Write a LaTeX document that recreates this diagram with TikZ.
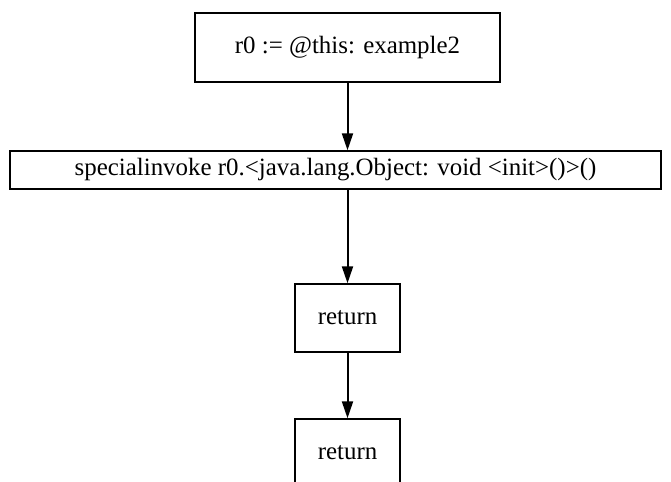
\documentclass[tikz,border=0pt]{standalone}
\usepackage{fontspec}
\setmainfont{Liberation Serif}
\usepackage{tikz}
\usetikzlibrary{arrows.meta}

\begin{document}
\begin{tikzpicture}[x=1bp, y=-1bp, font=\fontsize{25}{28}\selectfont, >={Triangle[length=17bp, width=11bp]}]
        \clip (0,0) rectangle (671,482);
        \tikzset{stmt/.style={draw, rectangle, line width=1.4bp, inner sep=0pt}}

        % statement boxes, top to bottom
        \node[stmt, minimum width=305bp, minimum height=69bp] (this)   at (347.5, 47.5)  {r0 := @this: example2};
        \node[stmt, minimum width=651bp, minimum height=38bp] (invoke) at (335.5, 170)   {specialinvoke r0.<java.lang.Object: void <init>()>()};
        \node[stmt, minimum width=105bp, minimum height=68bp] (ret1)   at (347.5, 318)   {return};
        \node[stmt, minimum width=105bp, minimum height=68bp] (ret2)   at (347.5, 453)   {return};

        % control flow edges
        \draw[->, line width=2bp] (this)   -- (this.south |- invoke.north);
        \draw[->, line width=2bp] (ret1.north |- invoke.south) -- (ret1);
        \draw[->, line width=2bp] (ret1)   -- (ret2);
\end{tikzpicture}
\end{document}
